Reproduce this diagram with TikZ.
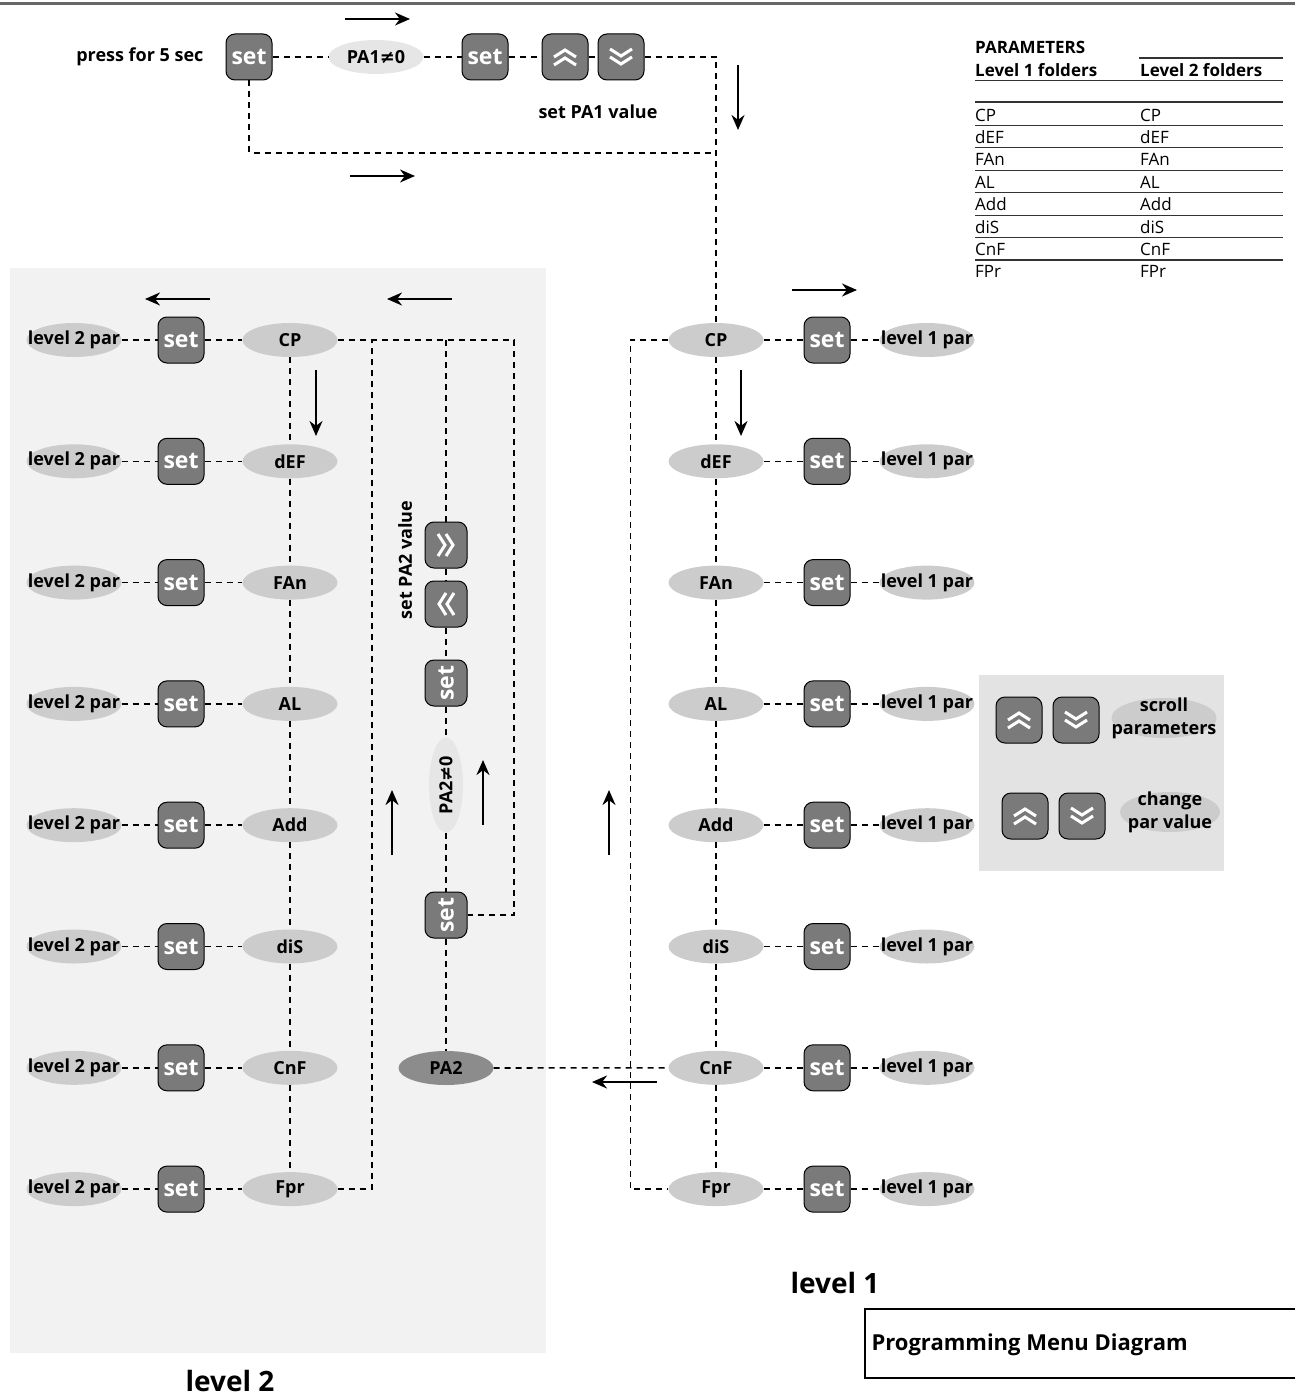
\documentclass[tikz,border=0pt]{standalone}
\usepackage{fontspec}
\setmainfont{Open Sans}
\newfontfamily\symfont{DejaVu Sans}
\usepackage{tikz}
\usetikzlibrary{shapes.geometric,arrows.meta,positioning}
\definecolor{panelgray}{HTML}{F2F2F2}
\definecolor{keygray}{HTML}{E3E3E3}
\definecolor{btngray}{HTML}{7A7A7A}
\definecolor{ellgray}{HTML}{CCCCCC}
\definecolor{palegray}{HTML}{E6E6E6}
\definecolor{pagray}{HTML}{8C8C8C}
\definecolor{rulegray}{HTML}{666666}
\newcommand{\parfont}{\fontsize{18}{20}\selectfont\bfseries}
\newcommand{\setfont}{\fontsize{23}{25}\selectfont\bfseries}
\newcommand{\lvlfont}{\fontsize{28}{32}\selectfont\bfseries}
\newcommand{\tabfont}{\fontsize{17}{19}\selectfont}
\newcommand{\neqsym}{{\symfont\bfseries ≠}}

\begin{document}
\begin{tikzpicture}[x=1pt,y=-1pt,
  btn/.style={rectangle,draw,line width=1pt,rounded corners=9pt,fill=btngray,
              minimum width=46pt,minimum height=46pt,inner sep=0pt,text=white,font=\setfont},
  ell/.style={ellipse,fill=ellgray,minimum width=95pt,minimum height=34pt,
              inner xsep=-20pt,inner ysep=0pt,font=\parfont},
  chev/.style={white,line width=3pt,sharp corners,solid},
  upkey/.style={btn,path picture={
    \draw[chev] ([shift={(-11pt,-8pt)}]path picture bounding box.center) -- ++(11pt,7pt) -- ++(11pt,-7pt)
                ([shift={(-11pt,0pt)}]path picture bounding box.center) -- ++(11pt,7pt) -- ++(11pt,-7pt);}},
  dnkey/.style={btn,path picture={
    \draw[chev] ([shift={(-11pt,8pt)}]path picture bounding box.center) -- ++(11pt,-7pt) -- ++(11pt,7pt)
                ([shift={(-11pt,0pt)}]path picture bounding box.center) -- ++(11pt,-7pt) -- ++(11pt,7pt);}},
  rkey/.style={btn,minimum width=42pt,path picture={
    \draw[chev] ([shift={(-8pt,11pt)}]path picture bounding box.center) -- ++(7pt,-11pt) -- ++(-7pt,-11pt)
                ([shift={(0pt,11pt)}]path picture bounding box.center) -- ++(7pt,-11pt) -- ++(-7pt,-11pt);}},
  lkey/.style={btn,minimum width=42pt,path picture={
    \draw[chev] ([shift={(8pt,11pt)}]path picture bounding box.center) -- ++(-7pt,-11pt) -- ++(7pt,-11pt)
                ([shift={(0pt,11pt)}]path picture bounding box.center) -- ++(-7pt,-11pt) -- ++(7pt,-11pt);}},
  dline/.style={dash pattern=on 6pt off 5pt,line width=1.6pt},
  arrow/.style={-{Stealth[length=15pt,width=13pt]},line width=2pt},
  tab/.style={anchor=west,inner sep=0pt,font=\tabfont},
  tline/.style={line width=1.2pt,draw=black!80}
]
\useasboundingbox (0,0) rectangle (1295,1399);
\draw[rulegray,line width=3pt] (0,4) -- (1295,4);
\fill[panelgray] (10,268) rectangle (546,1353);
\fill[keygray] (979,675) rectangle (1224,871);

\node[font=\parfont,anchor=east] (press) at (207,57) {press for 5 sec};
\node[btn] (set0) at (249,57) {set};
\node[ell,fill=palegray] (pa1) at (376,57) {PA1\neqsym0};
\node[btn] (set1) at (485,57) {set};
\node[upkey] (up0) at (565,57) {};
\node[dnkey] (dn0) at (621,57) {};
\node[font=\parfont] (pa1txt) at (598,112) {set PA1 value};
\coordinate (tr) at (716,57);
\coordinate (jn) at (716,153);

\foreach \n [count=\i] in {CP,dEF,FAn,AL,Add,diS,CnF,Fpr} {
  \pgfmathsetmacro{\y}{340+(\i-1)*121.3}
  \node[ell] (R\i) at (716,\y) {\n};
  \node[btn] (Rset\i) at (827,\y) {set};
  \node[ell] (Rpar\i) at (927,\y) {level 1 par};
  \draw[dline] (R\i) -- (Rset\i) -- (Rpar\i);
  \node[ell] (L\i) at (290,\y) {\n};
  \node[btn] (Lset\i) at (181,\y) {set};
  \node[ell] (Lpar\i) at (74,\y) {level 2 par};
  \draw[dline] (Lpar\i) -- (Lset\i) -- (L\i);
}
\foreach \i [count=\j from 2] in {1,...,7} {
  \draw[dline] (L\i) -- (L\j);
  \draw[dline] (R\i) -- (R\j);
}

\draw[dline] (set0) -- (pa1) -- (set1) -- (up0) -- (dn0) -- (tr) -- (R1);
\draw[dline] (set0) |- (jn);

\coordinate (c1) at (372,340);
\coordinate (c2) at (446,340);
\node[rkey] (Pr) at (446,545) {};
\node[lkey] (Pl) at (446,604) {};
\node[btn,rotate=90,minimum height=42pt] (Pset1) at (446,683) {set};
\node[ell,fill=palegray,rotate=90] (Pne) at (446,785) {PA2\neqsym0};
\node[btn,rotate=90,minimum height=42pt] (Pset2) at (446,915) {set};
\node[ell,fill=pagray] (P) at (446,1068) {PA2};
\node[font=\parfont,rotate=90] (pa2txt) at (405,560) {set PA2 value};
\draw[dline] (c2) -- (Pr) -- (Pl) -- (Pset1) -- (Pne) -- (Pset2) -- (P);
\draw[dline] (L1.east) -- ++(176,0) |- (Pset2);
\draw[dline] (L8.east) -| (c1);
\draw[dline] (P) -- (R7);
\draw[dline] (R1.west) -- ++(-38,0) |- (R8);

\draw[arrow] (345,19) -- (410,19);
\draw[arrow] (738,65) -- (738,130);
\draw[arrow] (350,176) -- (415,176);
\draw[arrow] (210,299) -- (145,299);
\draw[arrow] (452,299) -- (387,299);
\draw[arrow] (316,370) -- (316,436);
\draw[arrow] (792,290) -- (857,290);
\draw[arrow] (741,370) -- (741,436);
\draw[arrow] (392,855) -- (392,790);
\draw[arrow] (483,825) -- (483,760);
\draw[arrow] (609,855) -- (609,790);
\draw[arrow] (657,1082) -- (592,1082);

\node[tab,font=\tabfont\bfseries] (partitle) at (975,47) {PARAMETERS};
\node[tab,font=\tabfont\bfseries] (col1) at (975,70) {Level 1 folders};
\node[tab,font=\tabfont\bfseries] (col2) at (1140,70) {Level 2 folders};
\draw[tline] (1139,58) -- (1283,58);
\draw[tline] (975,80.5) -- (1283,80.5);
\draw[tline] (975,102) -- (1283,102);
\foreach \n [count=\i] in {CP,dEF,FAn,AL,Add,diS,CnF,FPr} {
  \pgfmathsetmacro{\y}{115+(\i-1)*22.4}
  \node[tab] (ta\i) at (975,\y) {\n};
  \node[tab] (tb\i) at (1140,\y) {\n};
}
\foreach \i in {1,...,7} {
  \pgfmathsetmacro{\y}{125.5+(\i-1)*22.4}
  \draw[tline] (975,\y) -- (1283,\y);
}

\node[upkey] (kup1) at (1019,720) {};
\node[dnkey] (kdn1) at (1076,720) {};
\node[ell,align=center,minimum width=105pt,minimum height=40pt,inner ysep=-14pt,
      font=\fontsize{18}{23}\selectfont\bfseries] (ktxt1) at (1164,718) {scroll\\parameters};
\node[upkey] (kup2) at (1025,816) {};
\node[dnkey] (kdn2) at (1082,816) {};
\node[ell,align=center,minimum width=100pt,minimum height=40pt,inner ysep=-14pt,
      font=\fontsize{18}{23}\selectfont\bfseries] (ktxt2) at (1170,812) {change\\par value};

\node[font=\lvlfont] (lvl1) at (835,1283) {level 1};
\node[font=\lvlfont] (lvl2) at (230,1381) {level 2};
\draw[line width=1.2pt] (1295,1309) -- (865,1309) -- (865,1378) -- (1295,1378);
\node[anchor=west,font=\fontsize{22}{26}\selectfont\bfseries] (title) at (868,1345) {Programming Menu Diagram};
\end{tikzpicture}
\end{document}
